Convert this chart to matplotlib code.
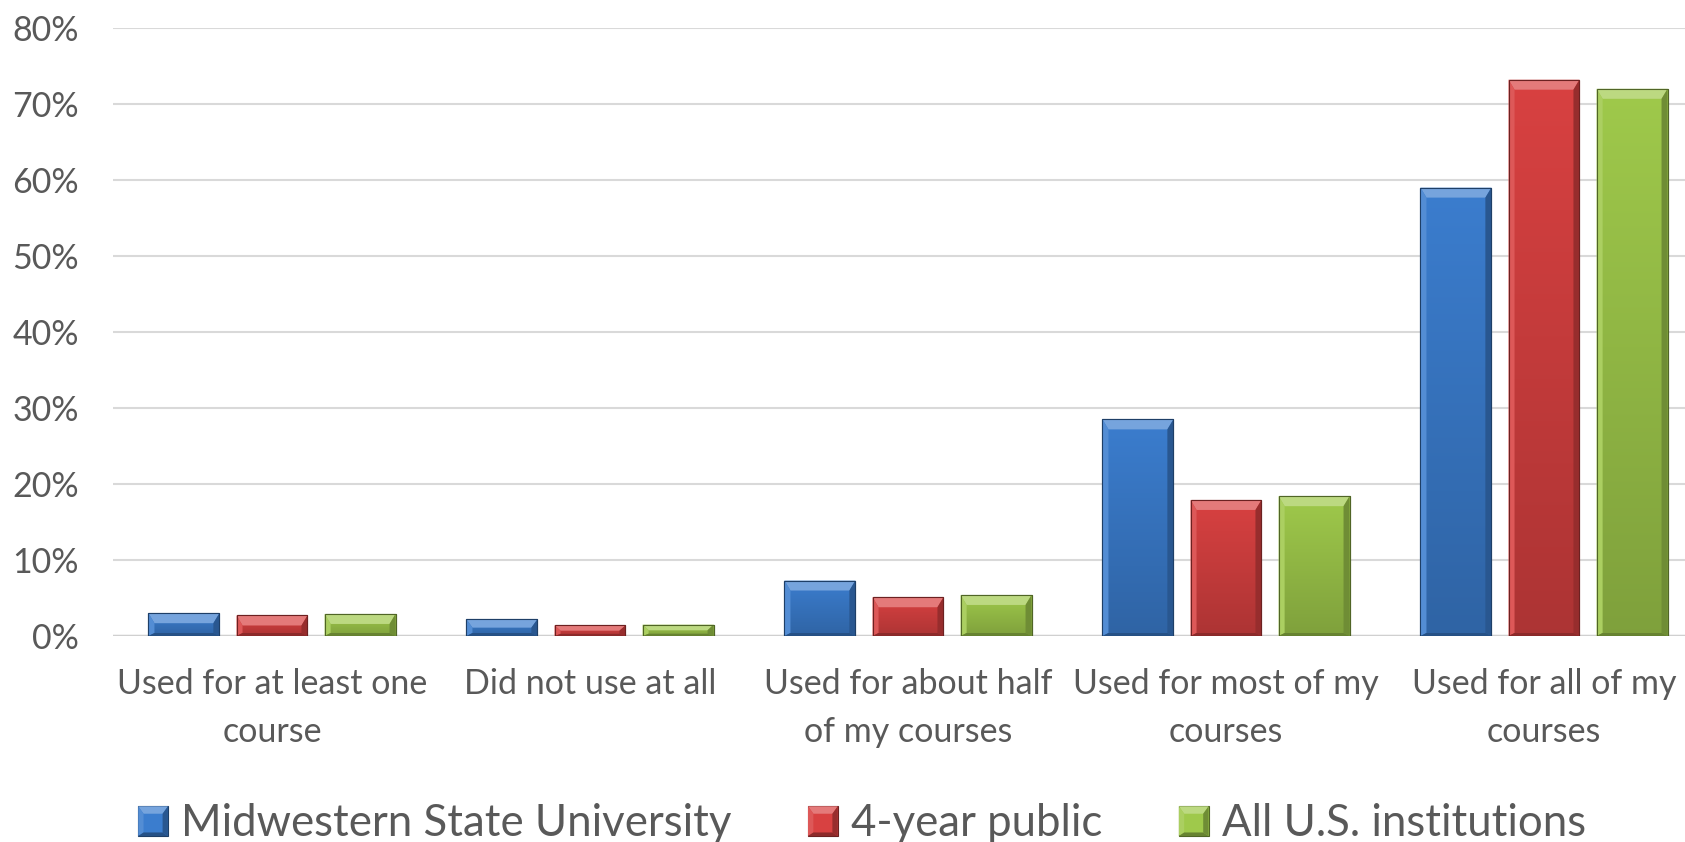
import numpy as np
import matplotlib
matplotlib.use("Agg")
import matplotlib.pyplot as plt
from matplotlib.patches import Polygon, Rectangle
from matplotlib.legend_handler import HandlerBase
import matplotlib.colors as mcolors

plt.rcParams['font.family'] = ['Lato', 'DejaVu Sans']

categories = ["Used for at least one\ncourse", "Did not use at all",
              "Used for about half\nof my courses", "Used for most of my\ncourses",
              "Used for all of my\ncourses"]
series_names = ["Midwestern State University", "4-year public", "All U.S. institutions"]
msu = [3.0, 2.2, 7.3, 28.5, 59.0]
public4 = [2.7, 1.4, 5.1, 17.9, 73.2]
all_us = [2.9, 1.5, 5.4, 18.4, 72.0]
series = [msu, public4, all_us]
colors = ["#3B7DCE", "#D84141", "#9FC94B"]
yticks = [0, 10, 20, 30, 40, 50, 60, 70, 80]

TEXT = "#595959"
W, H = 1685, 842
fig = plt.figure(figsize=(W / 100, H / 100), dpi=100)
ax = fig.add_axes([113 / W, 206 / H, 1590 / W, 608 / H])
ax.set_xlim(-0.5, 4.5)
ax.set_ylim(0, 80)
for s in ax.spines.values():
    s.set_visible(False)
ax.set_yticks(yticks)
ax.set_yticklabels([f"{v}%" for v in yticks])
ax.yaxis.grid(True, color="#D9D9D9", lw=1.5, zorder=0)
ax.set_axisbelow(True)
ax.axhline(0, color="#D0D0D0", lw=2.5, zorder=1)
ax.tick_params(axis='y', length=0, pad=24.5, labelsize=24.5, labelcolor=TEXT)
x = np.arange(len(categories))
ax.set_xticks(x)
ax.set_xticklabels(categories, linespacing=1.6)
ax.tick_params(axis='x', length=0, pad=23, labelsize=24.5, labelcolor=TEXT)

bw = 0.223
step = 0.277


def shade(c, f):
    r, g, b = mcolors.to_rgb(c)
    if f >= 0:
        return (r + (1 - r) * f, g + (1 - g) * f, b + (1 - b) * f)
    return (r * (1 + f), g * (1 + f), b * (1 + f))


def bevel_polys(x0, y0, x1, y1, bt, bs, bb):
    top = [(x0, y1), (x1, y1), (x1 - bs, y1 - bt), (x0 + bs, y1 - bt)]
    left = [(x0, y0), (x0, y1), (x0 + bs, y1 - bt), (x0 + bs, y0 + bb)]
    right = [(x1, y0), (x1, y1), (x1 - bs, y1 - bt), (x1 - bs, y0 + bb)]
    bottom = [(x0, y0), (x1, y0), (x1 - bs, y0 + bb), (x0 + bs, y0 + bb)]
    return top, left, right, bottom


inv = ax.transData.inverted()
for i, (vals, c) in enumerate(zip(series, colors)):
    bars = ax.bar(x + (i - 1) * step, vals, bw, color=c, zorder=3,
                  edgecolor=shade(c, -0.45), linewidth=0.8, label=series_names[i])
    for b in bars:
        bx0, by0 = b.get_x(), b.get_y()
        bx1, by1 = bx0 + b.get_width(), by0 + b.get_height()
        grad = np.linspace(0, 1, 64).reshape(-1, 1)
        top_c = np.array(mcolors.to_rgb(c))
        bot_c = np.array(shade(c, -0.2))
        img = grad[..., None] * top_c + (1 - grad[..., None]) * bot_c
        im = ax.imshow(img, extent=[bx0, bx1, by0, by1], origin='lower',
                       aspect='auto', zorder=3.1, interpolation='bilinear')
        im.set_clip_path(b)
        (px0, py0), (px1, py1) = ax.transData.transform([(bx0, by0), (bx1, by1)])
        hpx = py1 - py0
        bt = min(10, hpx * 0.5)
        bs = 6
        bb = min(3, hpx * 0.2)
        polys = bevel_polys(px0, py0, px1, py1, bt, bs, bb)
        fcs = [shade(c, 0.30), shade(c, 0.12), shade(c, -0.30), shade(c, -0.35)]
        for poly, fc in zip(polys, fcs):
            dp = inv.transform(poly)
            ax.add_patch(Polygon(dp, closed=True, facecolor=fc, edgecolor='none',
                                 zorder=3.2))
        ax.add_patch(Rectangle((bx0, by0), bx1 - bx0, by1 - by0, facecolor='none',
                               edgecolor=shade(c, -0.5), lw=0.8, zorder=3.3))
ax.set_xlim(-0.5, 4.5)
ax.set_ylim(0, 80)


class BevelHandler(HandlerBase):
    def create_artists(self, legend, orig_handle, xdescent, ydescent, width, height,
                       fontsize, trans):
        c = orig_handle.get_facecolor()
        s = min(width, height)
        x0, y0 = -xdescent + (width - s) / 2, -ydescent + (height - s) / 2
        x1, y1 = x0 + s, y0 + s
        arts = [Rectangle((x0, y0), s, s, facecolor=c, edgecolor=shade(c, -0.5),
                          lw=0.8, transform=trans)]
        polys = bevel_polys(x0, y0, x1, y1, s * 0.25, s * 0.18, s * 0.12)
        fcs = [shade(c, 0.30), shade(c, 0.12), shade(c, -0.30), shade(c, -0.35)]
        for poly, fc in zip(polys, fcs):
            arts.append(Polygon(poly, closed=True, facecolor=fc, edgecolor='none',
                                transform=trans))
        return arts


handles, labels = ax.get_legend_handles_labels()
hs = [h.patches[0] for h in handles] if hasattr(handles[0], 'patches') else handles
leg = fig.legend(hs, labels, loc='center', bbox_to_anchor=(862 / W, 18 / H), ncol=3,
                 frameon=False, fontsize=31.5, handlelength=0.68, handleheight=0.68,
                 handletextpad=0.3, columnspacing=1.75,
                 handler_map={type(hs[0]): BevelHandler()})
for t in leg.get_texts():
    t.set_color(TEXT)

fig.savefig("out.png", dpi=100)
